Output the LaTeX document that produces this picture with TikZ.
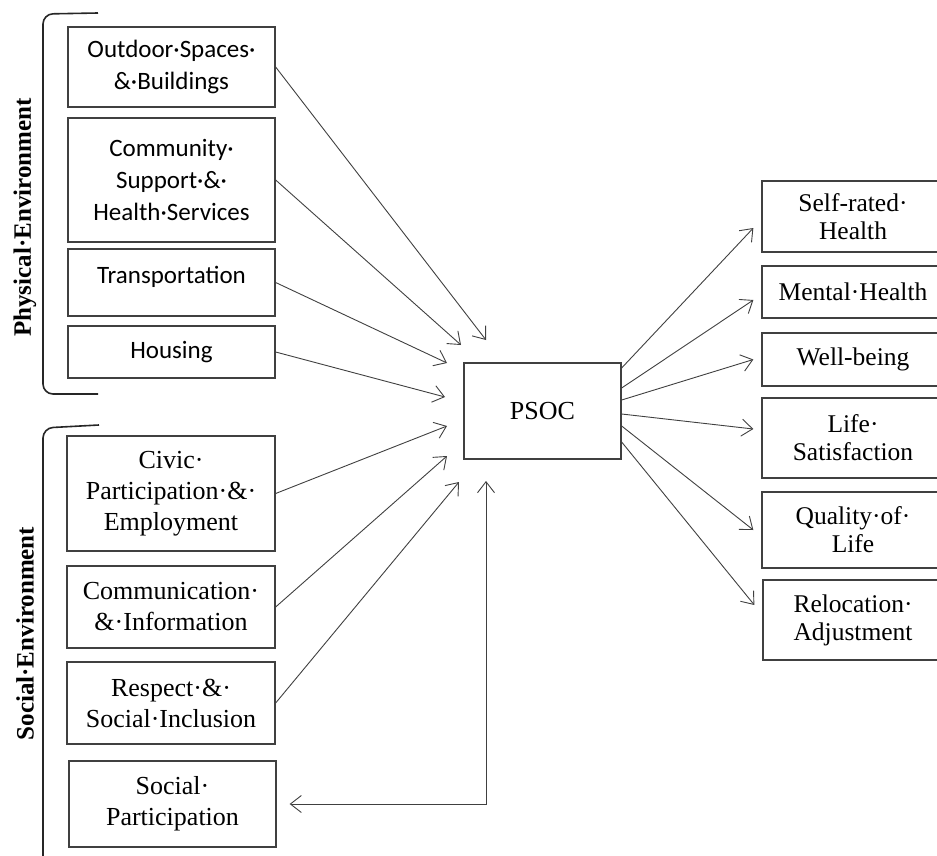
\documentclass[tikz,border=0pt]{standalone}
\usepackage{fontspec}
\setmainfont{Liberation Serif}
\newfontfamily\calibri{Carlito}
\usetikzlibrary{arrows.meta,calc}

\tikzset{
  >={Straight Barb[length=11pt,width=17pt]},
  box/.style={draw=black!75, line width=1.3pt, align=center, inner sep=0pt},
  sansbox/.style={box, font=\calibri\fontsize{25}{32}\selectfont},
  serifbox/.style={box, font=\fontsize{26}{31}\selectfont},
  outbox/.style={box, font=\fontsize{25.5}{28}\selectfont},
  link/.style={draw=black!75, line width=0.9pt, ->},
  brace/.style={draw=black!85, line width=1.6pt, rounded corners=10pt},
  sidelabel/.style={rotate=90, font=\bfseries\fontsize{25}{30}\selectfont},
}

\begin{document}
\begin{tikzpicture}[x=1pt,y=-1pt]
        \useasboundingbox (0,0) rectangle (937,856);
        \clip (0,0) rectangle (937,856);

        % Physical environment
        \node[sansbox, minimum width=207pt, minimum height=80pt] (osb) at (171.5,67) {Outdoor·Spaces·\\\&·Buildings};
        \node[sansbox, minimum width=207pt, minimum height=124pt] (csh) at (171.5,180) {Community·\\Support·\&·\\Health·Services};
        \node[sansbox, minimum width=207pt, minimum height=67pt, text depth=15pt] (trn) at (171.5,282.5) {Transportation};
        \node[sansbox, minimum width=207pt, minimum height=52pt] (hou) at (171.5,352) {Housing};

        % Social environment
        \node[serifbox, minimum width=208pt, minimum height=115pt] (cpe) at (171,493.5) {Civic·\\Participation·\&·\\Employment};
        \node[serifbox, minimum width=208pt, minimum height=82pt] (cin) at (171,607) {Communication·\\\&·Information};
        \node[serifbox, minimum width=208pt, minimum height=82pt] (rsi) at (171,703) {Respect·\&·\\Social·Inclusion};
        \node[serifbox, minimum width=207pt, minimum height=86pt] (spa) at (172.5,804) {Social·\\Participation};

        % brackets and side labels
        \draw[brace] (98,13) -- (43,14) -- (43,394) -- (98,394);
        \draw[brace] (99,425) -- (43,428) -- (43,880);
        \node[sidelabel] (physlbl) at (25,217.5) {Physical·Environment};
        \node[sidelabel] (soclbl) at (25,633.5) {Social·Environment};

        % centre
        \node[serifbox, minimum width=157pt, minimum height=96pt] (psoc) at (542.5,411) {PSOC};

        % outcomes
        \node[outbox, minimum width=182pt, minimum height=71pt] (srh) at (853,216.5) {Self-rated·\\Health};
        \node[outbox, minimum width=182pt, minimum height=52pt] (mh) at (853,292) {Mental·Health};
        \node[outbox, minimum width=182pt, minimum height=53pt] (wb) at (853,359.5) {Well-being};
        \node[outbox, minimum width=182pt, minimum height=80pt] (ls) at (853,438) {Life·\\Satisfaction};
        \node[outbox, minimum width=182pt, minimum height=76pt] (qol) at (853,530) {Quality·of·\\Life};
        \node[outbox, minimum width=180pt, minimum height=80pt] (ra) at (853,620) {Relocation·\\Adjustment};

        % arrow ends near PSOC
        \coordinate (e1) at (486,340);
        \coordinate (e2) at (461,345);
        \coordinate (e3) at (447,363);
        \coordinate (e4) at (445,397);
        \coordinate (e5) at (447,426);
        \coordinate (e6) at (447,456);
        \coordinate (e7) at (459,482);
        \coordinate (e8) at (486,481);

        \foreach \src/\dst in {osb/e1, csh/e2, trn/e3, hou/e4, cpe/e5, cin/e6, rsi/e7}
            \draw[link] (\src.east) -- (\dst);
        \draw[link, <->] ([xshift=13pt]spa.east) -| (e8);

        % PSOC to outcomes
        \foreach \dy/\dst/\ey in {-43/srh/11.5, -23/mh/8, -11/wb/0, 3/ls/-9, 15/qol/0, 31/ra/-15}
            \draw[link] ($(psoc.east)+(0,\dy)$) -- ($(\dst.west)+(-8,\ey)$);
    \end{tikzpicture}
\end{document}
